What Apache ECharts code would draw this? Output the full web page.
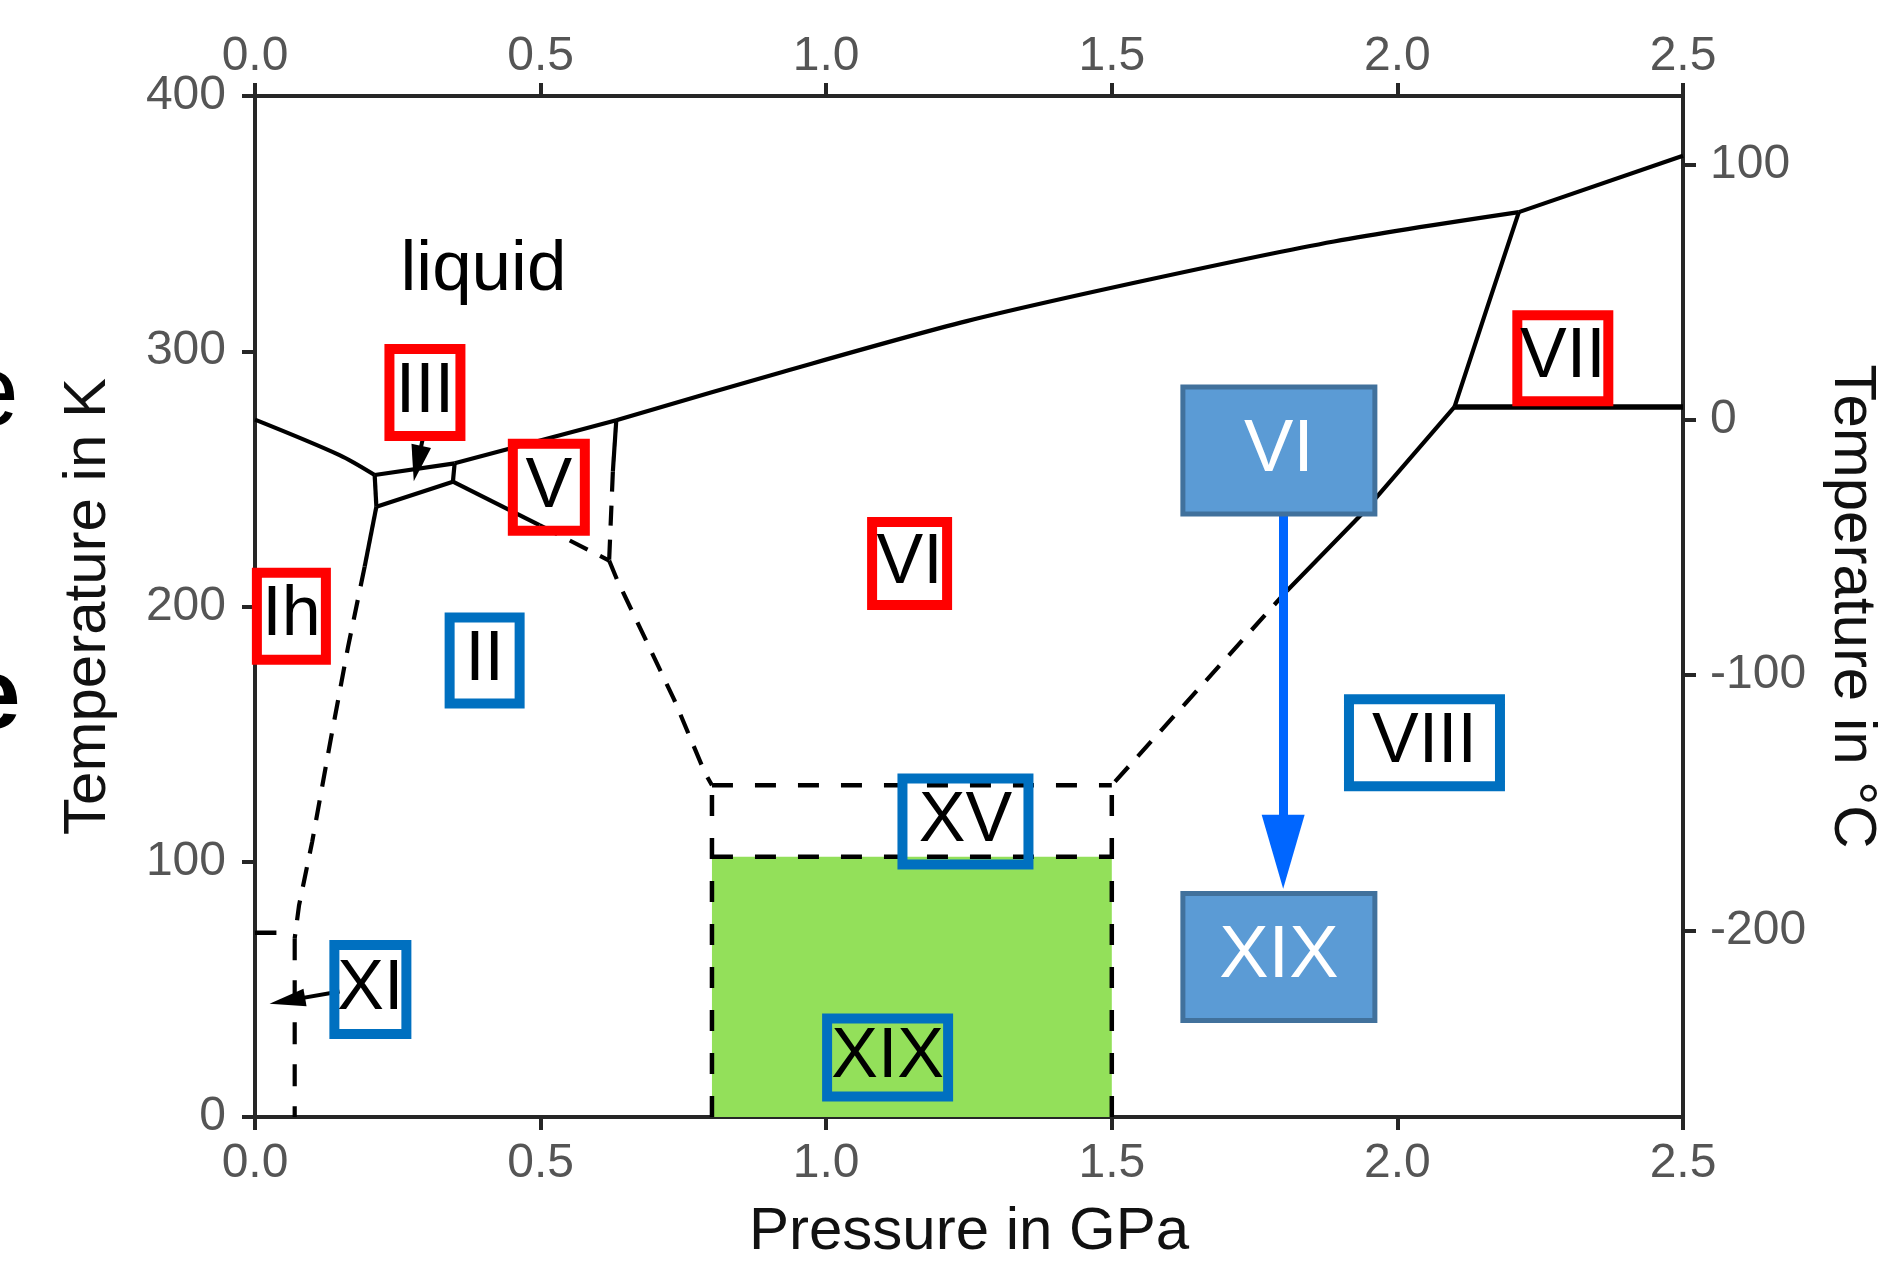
<!DOCTYPE html>
<html>
<head>
<meta charset="utf-8">
<script src="https://cdn.jsdelivr.net/npm/echarts@6/dist/echarts.min.js"></script>
<style>
html,body{margin:0;padding:0;background:#ffffff;overflow:hidden;}
#c{width:1890px;height:1267px;}
</style>
</head>
<body>
<div id="c"></div>
<script>
// ---------------- data (pressure in GPa, temperature in K) ----------------
const pressureTicks = [0, 0.5, 1.0, 1.5, 2.0, 2.5];
const kelvinTicks = [0, 100, 200, 300, 400];
const celsiusTicks = [-200, -100, 0, 100];

// solid phase boundaries
const ihLiquid   = [[0, 273.2], [0.148, 259.3], [0.2095, 251.5]];
const iiiLiquid  = [[0.2095, 251.5], [0.3495, 256.1]];
const vLiquid    = [[0.3495, 256.1], [0.6325, 273.0]];
const viLiquid   = [[0.6325, 273.0], [0.925, 292.0], [1.246, 311.8], [1.568, 328.2], [1.889, 343.0], [2.2126, 354.5]];
const viiLiquid  = [[2.2126, 354.5], [2.5, 376.6]];
const ihIII      = [[0.2095, 251.5], [0.2125, 239.1]];
const iiIII      = [[0.2125, 239.1], [0.3465, 248.9]];
const iiiV       = [[0.3495, 256.1], [0.3465, 248.9]];
const iiVSolid   = [[0.3465, 248.9], [0.498, 231.9]];
const vViSolid   = [[0.6325, 273.0], [0.6265, 252.8]];
const ihIISolid  = [[0.2125, 239.1], [0.192, 215.6]];
const viVii      = [[2.2126, 354.5], [2.157, 317.0], [2.1, 278.2]];
const viiViii    = [[2.1, 278.2], [2.5, 278.2]];
const viViiiSolid= [[2.1, 278.2], [1.939, 236.5], [1.808, 206.5]];
const ihXIStub   = [[0, 72.2], [0.0375, 72.2]];

// dashed (metastable / extrapolated) boundaries
const iiVDashed    = [[0.498, 231.9], [0.62, 218.0]];
const vViDashed    = [[0.6265, 252.8], [0.62, 218.0]];
const iiViDashed   = [[0.62, 218.0], [0.634, 210.4], [0.687, 185.6], [0.734, 163.4], [0.788, 134.7], [0.8, 130.0]];
const ihIIDashed   = [[0.192, 215.6], [0.163, 184.3], [0.131, 146.0], [0.100, 107.7], [0.077, 82.8], [0.0695, 70.0]];
const ihXIDashed   = [[0.0695, 70.0], [0.0695, 0]];
const viViiiDashed = [[1.808, 206.5], [1.5, 130.0]];

// XV / XIX rectangle
const xvTop    = [[0.8, 130], [1.5, 130]];
const xixTop   = [[0.8, 102], [1.5, 102]];
const xvLeft   = [[0.8, 0], [0.8, 130]];
const xvRight  = [[1.5, 0], [1.5, 130]];

// arrows [start, head centre]
const transitionArrow = [[1.8, 236.5], [1.8, 103.9]];
const xiArrow  = [[0.148, 49.2], [0.0565, 45.6]];
const iiiArrow = [[0.294, 266.0], [0.2845, 256.0]];

// phase labels
const redNames    = ['III', 'V', 'VI', 'Ih', 'VII'];
const redPos      = [[0.2975, 283.8], [0.5144, 246.7], [1.146, 216.8], [0.0637, 196.2], [2.2896, 297.3]];
const blueNames   = ['II', 'XI', 'XV', 'XIX', 'VIII'];
const bluePos     = [[0.402, 178.8], [0.202, 50.0], [1.2438, 115.8], [1.1075, 23.3], [2.0474, 146.6]];
const filledNames = ['VI', 'XIX'];
const filledPos   = [[1.7925, 261.1], [1.7925, 62.7]];
const plainNames  = ['liquid'];
const plainPos    = [[0.400, 331.6]];

// ---------------- styling ----------------
const FONT = '"Liberation Sans", Arial, sans-serif';
const AXIS_COLOR = '#262626';
const LABEL_GREY = '#555555';
// outer box size [w, h] and vertical text shift (px) per label
const boxStyle = {
  'III|red':  [76, 92, -2],
  'V|red':    [77, 92, -7],
  'VI|red':   [80, 88, -7],
  'Ih|red':   [74, 92, -10],
  'VII|red':  [96, 91, -4],
  'II|blue':  [75, 91, 0],
  'XI|blue':  [77, 94, 0],
  'XV|blue':  [131, 91, -5],
  'XIX|blue': [126, 83, 3],
  'VIII|blue':[156, 92, -8],
  'VI|fill':  [192, 127, 3],
  'XIX|fill': [192, 127, 2]
};
const kindColors = { red: '#ff0000', blue: '#0070c0', fill: '#41719c' };

function boundary(data, opts, smooth) {
  return {
    type: 'line', data: data, xAxisIndex: 0, yAxisIndex: 0, smooth: smooth || false,
    symbol: 'none', showSymbol: false, silent: true, animation: false, z: 3,
    lineStyle: Object.assign({ color: '#000', width: 4.2, type: 'solid' }, opts || {})
  };
}
const DASH = { type: [20, 14], width: 4.2 };
const RECT = { type: [21, 22], width: 4.5 };

function arrowSeries(pts, color, width, size) {
  return {
    type: 'line', data: [], xAxisIndex: 0, yAxisIndex: 0, silent: true, animation: false, z: 6,
    markLine: {
      silent: true, animation: false, symbol: ['none', 'triangle'], symbolSize: size,
      label: { show: false }, emphasis: { disabled: true },
      lineStyle: { color: color, width: width, type: 'solid', opacity: 1 },
      data: [[{ coord: pts[0] }, { coord: pts[1] }]]
    }
  };
}

function labelSeries(names, positions, kind) {
  return {
    type: 'scatter', xAxisIndex: 0, yAxisIndex: 0, symbolSize: 0, silent: true, animation: false, z: 10,
    itemStyle: { opacity: 1 },
    data: names.map(function (n, i) {
      if (kind === 'plain') {
        return { name: n, value: positions[i], label: {
          show: true, position: 'inside', formatter: '{b}', color: '#000', opacity: 1,
          fontFamily: FONT, fontSize: 71 } };
      }
      const s = boxStyle[n + '|' + kind];
      const shift = s[2];
      const pad = shift < 0 ? [0, 0, -2 * shift, 0] : [2 * shift, 0, 0, 0];
      const innerH = s[1] - 5 - Math.abs(2 * shift);
      return { name: n, value: positions[i], label: {
        show: true, position: 'inside', formatter: '{b}', opacity: 1,
        color: kind === 'fill' ? '#ffffff' : '#000000',
        fontFamily: FONT, fontSize: kind === 'fill' ? 74 : 70,
        backgroundColor: kind === 'fill' ? '#5b9bd5' : 'transparent',
        borderColor: kindColors[kind], borderWidth: 5,
        width: s[0] - 5, height: innerH, lineHeight: innerH, padding: pad,
        align: 'center', verticalAlign: 'middle'
      } };
    })
  };
}

const axisCommon = {
  axisLine: { show: true, onZero: false, lineStyle: { color: AXIS_COLOR, width: 4 } },
  axisTick: { show: true, inside: false, length: 13, lineStyle: { color: AXIS_COLOR, width: 4 } },
  splitLine: { show: false },
  nameTextStyle: { fontSize: 60, color: '#111', fontFamily: FONT }
};
function lbl(margin) {
  return { fontSize: 48, color: LABEL_GREY, fontFamily: FONT, margin: margin };
}

const option = {
  backgroundColor: '#ffffff',
  animation: false,
  grid: { left: 255, right: 195, top: 96, bottom: 150, containLabel: false },
  xAxis: [
    Object.assign({}, axisCommon, {
      type: 'value', position: 'bottom', min: pressureTicks[0], max: pressureTicks[pressureTicks.length - 1], interval: 0.5,
      axisLabel: Object.assign(lbl(23), { formatter: function (v) { return v.toFixed(1); } }),
      name: 'Pressure in GPa', nameLocation: 'middle', nameGap: 85
    }),
    Object.assign({}, axisCommon, {
      type: 'value', position: 'top', min: pressureTicks[0], max: pressureTicks[pressureTicks.length - 1], interval: 0.5,
      axisLabel: Object.assign(lbl(15), { formatter: function (v) { return v.toFixed(1); } })
    })
  ],
  yAxis: [
    Object.assign({}, axisCommon, {
      type: 'value', position: 'left', min: kelvinTicks[0], max: kelvinTicks[kelvinTicks.length - 1], interval: 100,
      axisLabel: lbl(29),
      name: 'Temperature in K', nameLocation: 'middle', nameRotate: 90, nameGap: 137
    }),
    Object.assign({}, axisCommon, {
      type: 'value', position: 'right', min: -273.15, max: 126.85,
      axisLabel: Object.assign(lbl(27), { customValues: celsiusTicks, formatter: function (v) { return String(Math.round(v)); } }),
      axisTick: { show: true, inside: false, length: 13, lineStyle: { color: AXIS_COLOR, width: 4 }, customValues: celsiusTicks },
      name: 'Temperature in °C', nameLocation: 'middle', nameRotate: -90, nameGap: 139
    })
  ],
  graphic: [
    { type: 'text', x: -37, y: 397, silent: true,
      style: { text: 'e', font: '100px "Liberation Sans", Arial, sans-serif', fill: '#000', textAlign: 'left', verticalAlign: 'middle', textVerticalAlign: 'middle' } },
    { type: 'text', x: -35, y: 700, silent: true,
      style: { text: 'e', font: 'bold 100px "Liberation Sans", Arial, sans-serif', fill: '#000', textAlign: 'left', verticalAlign: 'middle', textVerticalAlign: 'middle' } }
  ],
  series: [
    // green XIX region
    { type: 'line', data: xixTop, xAxisIndex: 0, yAxisIndex: 0, symbol: 'none', silent: true, animation: false, z: 1,
      lineStyle: { width: 0 }, areaStyle: { color: '#93e05a', opacity: 1, origin: 'start' } },
    boundary(ihLiquid, null, 0.3), boundary(iiiLiquid), boundary(vLiquid), boundary(viLiquid, null, 0.3), boundary(viiLiquid),
    boundary(ihIII), boundary(iiIII), boundary(iiiV), boundary(iiVSolid), boundary(vViSolid),
    boundary(ihIISolid), boundary(viVii), boundary(viiViii, { width: 5.5 }), boundary(viViiiSolid), boundary(ihXIStub, { width: 4.5 }),
    boundary(iiVDashed, DASH), boundary(vViDashed, DASH), boundary(iiViDashed, DASH),
    boundary(ihIIDashed, DASH), boundary(ihXIDashed, { type: [22, 20], width: 4.2 }), boundary(viViiiDashed, DASH),
    boundary(xvTop, RECT), boundary(xixTop, RECT), boundary(xvLeft, RECT), boundary(xvRight, RECT),
    arrowSeries(transitionArrow, '#0066ff', 9, [43, 74]),
    arrowSeries(xiArrow, '#000000', 4, [18, 36]),
    arrowSeries(iiiArrow, '#000000', 4, [20, 36]),
    labelSeries(plainNames, plainPos, 'plain'),
    labelSeries(redNames, redPos, 'red'),
    labelSeries(blueNames, bluePos, 'blue'),
    labelSeries(filledNames, filledPos, 'fill')
  ]
};

const chart = echarts.init(document.getElementById('c'), null, { renderer: 'canvas', width: 1890, height: 1267 });
chart.setOption(option);
</script>
</body>
</html>
